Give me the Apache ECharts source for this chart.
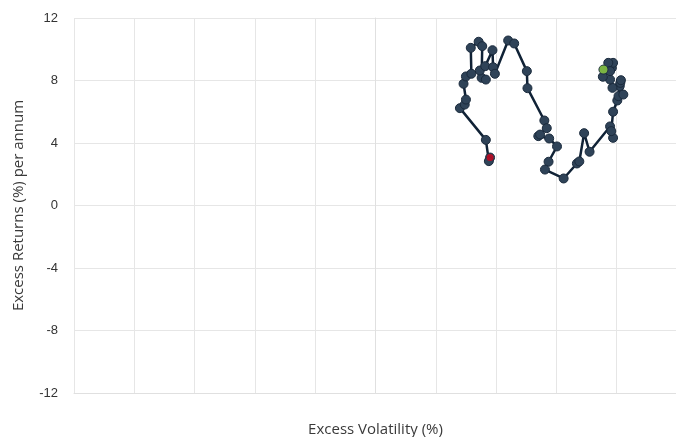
<!DOCTYPE html>
<html>
<head>
<meta charset="utf-8">
<script src="https://cdn.jsdelivr.net/npm/echarts@6/dist/echarts.min.js"></script>
<style>html,body{margin:0;padding:0;background:#fff;}#c{width:676px;height:437px;}</style>
</head>
<body>
<div id="c"></div>
<script>
// Excess volatility (%) per point
const volX = [1.90,1.88,1.83,1.40,1.48,1.50,1.46,1.50,1.59,1.58,1.71,1.77,1.76,1.83,1.73,1.82,1.94,1.95,1.98,2.20,2.30,2.51,2.52,2.80,2.84,2.70,2.73,2.88,3.01,2.87,2.81,3.12,3.34,3.38,3.46,3.55,3.89,3.94,3.91,3.94,4.01,4.05,4.03,4.11,4.06,4.07,3.93,3.89,3.92,3.94,3.86,3.89,3.77,3.78];
// Excess returns (%) per annum per point
const retY = [3.07,2.84,4.20,6.23,6.46,6.78,7.79,8.26,8.43,10.09,10.48,10.20,8.17,8.06,8.64,8.92,9.94,8.85,8.43,10.56,10.37,8.60,7.51,5.44,4.95,4.44,4.54,4.29,3.78,2.80,2.30,1.73,2.69,2.82,4.63,3.44,5.06,4.33,4.76,6.00,6.72,7.64,7.00,7.10,7.85,8.02,7.53,8.06,8.81,9.13,9.13,8.60,8.24,8.70];
const yTicks = [-12,-8,-4,0,4,8,12];

const pts = volX.map((x,i)=>[x,retY[i]]);
const n = pts.length;
const gridColors = ['#e6e6e6','#e6e6e6','#e6e6e6','#e6e6e6','#e6e6e6','#c8c8c8','#e6e6e6','#e6e6e6','#e6e6e6','#e6e6e6','#e6e6e6'];

const chart = echarts.init(document.getElementById('c'));
chart.setOption({
  animation:false,
  grid:{left:74,top:18,width:603,bottom:44,containLabel:false,outerBoundsMode:'none'},
  xAxis:{type:'value',min:-5,max:5,interval:1,
    name:'Excess Volatility (%)',nameLocation:'middle',nameGap:29,
    nameTextStyle:{fontFamily:'Open Sans',fontSize:15,color:'#3a3a3a'},
    axisLine:{show:true,onZero:false,lineStyle:{color:'#e0e0e0'}},
    axisTick:{show:false},axisLabel:{show:false},
    splitLine:{show:true,lineStyle:{color:gridColors,width:1}}},
  yAxis:{type:'value',min:yTicks[0],max:yTicks[yTicks.length-1],interval:4,
    name:'Excess Returns (%) per annum',nameLocation:'middle',nameGap:48,
    nameTextStyle:{fontFamily:'Open Sans',fontSize:15,color:'#3a3a3a'},
    axisLine:{show:true,lineStyle:{color:'#e0e0e0'}},
    axisTick:{show:false},
    axisLabel:{margin:16,fontFamily:'Liberation Sans',fontSize:13,color:'#333'},
    splitLine:{show:true,lineStyle:{color:'#e6e6e6'}}},
  series:[
    {type:'line',data:pts,symbol:'circle',symbolSize:9,
      lineStyle:{color:'#102236',width:2.5},
      itemStyle:{color:'#2f4358',borderColor:'#1a2a3c',borderWidth:1},z:2},
    {type:'scatter',data:[pts[0]],symbolSize:7,itemStyle:{color:'#d0021b'},z:5},
    {type:'scatter',data:[pts[n-1]],symbolSize:8,itemStyle:{color:'#8fd13f'},z:5}
  ]
});
</script>
</body>
</html>
